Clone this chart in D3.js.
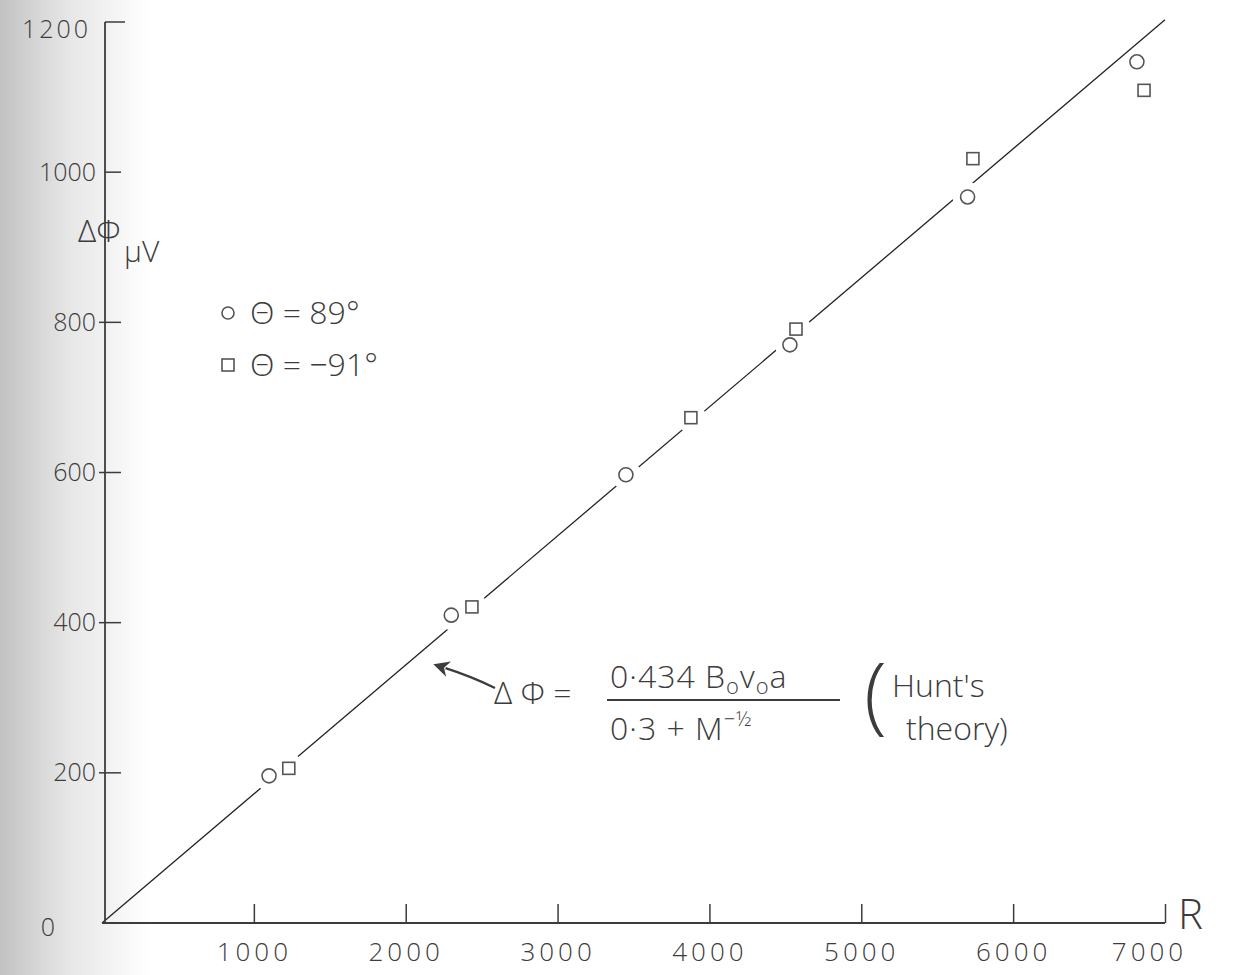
<!DOCTYPE html>
<html>
<head>
<meta charset="utf-8">
<script src="https://cdnjs.cloudflare.com/ajax/libs/d3/7.8.5/d3.min.js"></script>
<style>
  html, body { margin: 0; padding: 0; background: #fff; }
  svg text { font-family: "Open Sans", "DejaVu Sans", sans-serif; font-weight: 300; fill: #3c3c3c; }
</style>
</head>
<body>
<div id="chart"></div>
<script>
// data
var xTicks = [1000, 2000, 3000, 4000, 5000, 6000, 7000];
var yTicks = [0, 200, 400, 600, 800, 1000, 1200];

// theta = 89 deg (circles)
var circleR   = [1100, 2300, 3450, 4530, 5700, 6815];
var circlePhi = [196, 410, 597, 770, 967, 1147];

// theta = -91 deg (squares)
var squareR   = [1230, 2436, 3878, 4570, 5735, 6862];
var squarePhi = [206, 421, 673, 791, 1018, 1109];

// Hunt's theory line
var theoryR   = [0, 7000];
var theoryPhi = [0, 1203];

var W = 1243, H = 975;
var ink = '#3c3c3c';

var svg = d3.select('#chart')
  .append('svg')
  .attr('width', W)
  .attr('height', H);

// scanned page shading on the left edge
var defs = svg.append('defs');
var grad = defs.append('linearGradient')
  .attr('id', 'shade')
  .attr('x1', 0).attr('x2', 1).attr('y1', 0).attr('y2', 0);
grad.append('stop').attr('offset', '0%').attr('stop-color', '#c2c2c2');
grad.append('stop').attr('offset', '45%').attr('stop-color', '#e6e6e6');
grad.append('stop').attr('offset', '100%').attr('stop-color', '#ffffff');

defs.append('marker')
  .attr('id', 'arrow')
  .attr('viewBox', '0 0 10 10')
  .attr('refX', 2).attr('refY', 5)
  .attr('markerUnits', 'userSpaceOnUse')
  .attr('markerWidth', 22).attr('markerHeight', 16)
  .attr('orient', 'auto')
  .append('path')
  .attr('d', 'M10,5 L0,0 L3,5 L0,10 Z')
  .attr('fill', ink);

svg.append('rect')
  .attr('width', 150).attr('height', H)
  .attr('fill', 'url(#shade)');

var x = d3.scaleLinear().domain([0, 7000]).range([102, 1165]);
var y = d3.scaleLinear().domain([0, 1200]).range([923, 22]);

var axisX = 105;

// theory line
var line = d3.line()
  .x(function(d) { return x(d[0]); })
  .y(function(d) { return y(d[1]); });

svg.append('path')
  .datum(d3.zip(theoryR, theoryPhi))
  .attr('d', line)
  .attr('fill', 'none')
  .attr('stroke', '#222')
  .attr('stroke-width', 1.3);

// x axis, ticks point up into the plot
var gx = svg.append('g')
  .attr('transform', 'translate(0,' + y(0) + ')')
  .call(d3.axisBottom(x)
    .tickValues(xTicks)
    .tickSize(-19)
    .tickPadding(20)
    .tickFormat(d3.format('d')));

gx.select('.domain')
  .attr('stroke', ink)
  .attr('stroke-width', 1.8)
  .attr('d', 'M' + x(0) + ',0H' + x(7000));
gx.selectAll('.tick line').attr('stroke', ink).attr('stroke-width', 1.5);
gx.selectAll('.tick text')
  .attr('font-size', 26)
  .attr('letter-spacing', 4)
  .attr('fill', ink);
gx.selectAll('.tick')
  .filter(function(d) { return d === 6000; })
  .select('text')
  .attr('fill', '#9a9a9a');
gx.selectAll('.tick')
  .filter(function(d) { return d === 7000; })
  .select('text')
  .attr('x', -16);

// y axis
var gy = svg.append('g')
  .attr('transform', 'translate(' + axisX + ',0)')
  .call(d3.axisLeft(y)
    .tickValues(yTicks)
    .tickSize(0)
    .tickPadding(9)
    .tickFormat(d3.format('d')));

gy.select('.domain')
  .attr('stroke', ink)
  .attr('stroke-width', 1.8)
  .attr('d', 'M0,' + y(1200) + 'V' + y(0));
gy.selectAll('.tick text')
  .attr('font-size', 25)
  .attr('fill', ink);
gy.selectAll('.tick')
  .filter(function(d) { return d === 0; })
  .select('text')
  .attr('x', -50)
  .attr('dy', '0.5em');
gy.selectAll('.tick')
  .filter(function(d) { return d === 1200; })
  .select('text')
  .attr('x', -14)
  .attr('dy', '0.6em')
  .attr('letter-spacing', 3);

gy.selectAll('.ytick')
  .data(yTicks.filter(function(d) { return d > 0; }))
  .enter()
  .append('line')
  .attr('class', 'ytick')
  .attr('x1', function(d) { return d >= 1000 ? 0 : -6; })
  .attr('x2', function(d) { return d === 1200 ? 20 : 16; })
  .attr('y1', function(d) { return y(d); })
  .attr('y2', function(d) { return y(d); })
  .attr('stroke', ink)
  .attr('stroke-width', 1.5);

// axis titles
svg.append('text')
  .attr('x', x(7000) + 13).attr('y', y(0) + 6)
  .attr('font-size', 42)
  .text('R');

svg.append('text')
  .attr('x', 78).attr('y', 242)
  .attr('font-size', 32)
  .text('ΔΦ');
svg.append('text')
  .attr('x', 124).attr('y', 262)
  .attr('font-size', 30)
  .text('μV');

// points: white halo breaks the line like the drawing
var circles = d3.zip(circleR, circlePhi);
var squares = d3.zip(squareR, squarePhi);

svg.selectAll('.halo')
  .data(circles.concat(squares).filter(function(d) { return d[0] < 6000; }))
  .enter()
  .append('circle')
  .attr('class', 'halo')
  .attr('cx', function(d) { return x(d[0]); })
  .attr('cy', function(d) { return y(d[1]); })
  .attr('r', 15)
  .attr('fill', '#fff');

svg.selectAll('.pt-circle')
  .data(circles)
  .enter()
  .append('circle')
  .attr('class', 'pt-circle')
  .attr('cx', function(d) { return x(d[0]); })
  .attr('cy', function(d) { return y(d[1]); })
  .attr('r', 7)
  .attr('fill', 'none')
  .attr('stroke', '#555')
  .attr('stroke-width', 1.6);

svg.selectAll('.pt-square')
  .data(squares)
  .enter()
  .append('rect')
  .attr('class', 'pt-square')
  .attr('x', function(d) { return x(d[0]) - 6; })
  .attr('y', function(d) { return y(d[1]) - 6; })
  .attr('width', 12)
  .attr('height', 12)
  .attr('fill', 'none')
  .attr('stroke', '#555')
  .attr('stroke-width', 1.6);

// legend
var legend = svg.append('g').attr('transform', 'translate(228,313)');
legend.append('circle')
  .attr('r', 6).attr('fill', 'none')
  .attr('stroke', '#555').attr('stroke-width', 1.6);
legend.append('text')
  .attr('x', 22).attr('y', 11)
  .attr('font-size', 32)
  .text('Θ = 89°');
legend.append('rect')
  .attr('x', -6).attr('y', 46).attr('width', 12).attr('height', 12)
  .attr('fill', 'none')
  .attr('stroke', '#555').attr('stroke-width', 1.6);
legend.append('text')
  .attr('x', 22).attr('y', 63)
  .attr('font-size', 32)
  .text('Θ = −91°');

// annotation with arrow to the theory line
svg.append('path')
  .attr('d', 'M495,688 Q470,676 ' + (x(2170) + 14) + ',' + (y(350) + 8))
  .attr('fill', 'none')
  .attr('stroke', ink)
  .attr('stroke-width', 2.4)
  .attr('marker-end', 'url(#arrow)');

var eq = svg.append('g');
eq.append('text')
  .attr('x', 494).attr('y', 704)
  .attr('font-size', 32)
  .text('Δ Φ =');

var num = eq.append('text')
  .attr('x', 610).attr('y', 688)
  .attr('font-size', 32)
  .attr('letter-spacing', 1);
num.append('tspan').text('0·434 B');
num.append('tspan').attr('font-size', 22).attr('dy', 6).text('o');
num.append('tspan').attr('dy', -6).text('v');
num.append('tspan').attr('font-size', 22).attr('dy', 6).text('o');
num.append('tspan').attr('dy', -6).text('a');

eq.append('line')
  .attr('x1', 607).attr('x2', 840)
  .attr('y1', 700).attr('y2', 700)
  .attr('stroke', ink)
  .attr('stroke-width', 1.8);

var den = eq.append('text')
  .attr('x', 610).attr('y', 740)
  .attr('font-size', 32)
  .attr('letter-spacing', 1);
den.append('tspan').text('0·3 + M');
den.append('tspan').attr('font-size', 20).attr('dy', -14).text('−½');

eq.append('text')
  .attr('x', 864).attr('y', 724)
  .attr('font-size', 84)
  .text('(');
eq.append('text')
  .attr('x', 892).attr('y', 697)
  .attr('font-size', 32)
  .text('Hunt\'s');
eq.append('text')
  .attr('x', 906).attr('y', 740)
  .attr('font-size', 32)
  .text('theory)');
</script>
</body>
</html>
